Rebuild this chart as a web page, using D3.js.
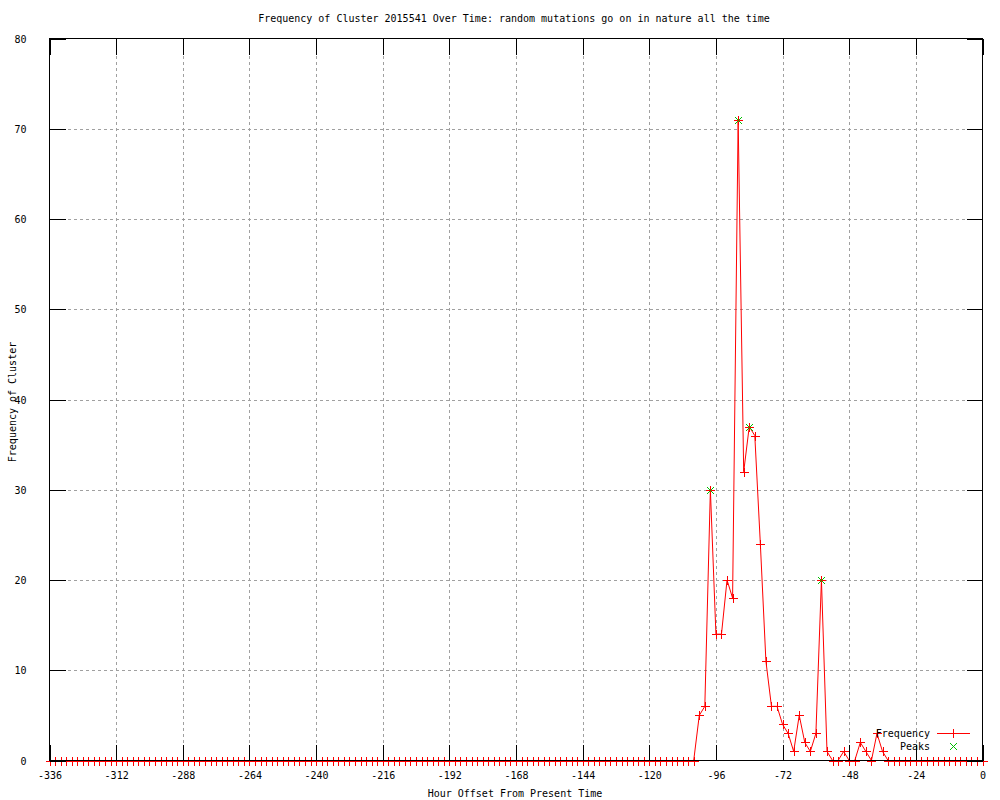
<!DOCTYPE html>
<html>
<head>
<meta charset="utf-8">
<script src="https://cdn.jsdelivr.net/npm/d3@7"></script>
<style>
  body { margin: 0; background: #fff; }
  text { font-family: "DejaVu Sans Mono", monospace; font-size: 10px; fill: #000; }
</style>
</head>
<body>
<script>
// sample hours, every 2 hours from two weeks back to now
const hours = d3.range(-336, 1, 2);

// frequency per sample (169 values)
const freq = [
  // -336 .. -104 : all zero (117 samples)
  0,0,0,0,0,0,0,0,0,0,0,0,0,
  0,0,0,0,0,0,0,0,0,0,0,0,0,
  0,0,0,0,0,0,0,0,0,0,0,0,0,
  0,0,0,0,0,0,0,0,0,0,0,0,0,
  0,0,0,0,0,0,0,0,0,0,0,0,0,
  0,0,0,0,0,0,0,0,0,0,0,0,0,
  0,0,0,0,0,0,0,0,0,0,0,0,0,
  0,0,0,0,0,0,0,0,0,0,0,0,0,
  0,0,0,0,0,0,0,0,0,0,0,0,0,
  // -102 .. -34
  5,6,30,14,14,20,18,71,32,37,36,24,11,6,6,4,3,1,5,2,1,3,20,1,0,0,1,0,0,2,1,0,3,1,0,
  // -32 .. 0
  0,0,0,0,0,0,0,0,0,0,0,0,0,0,0,0,0
];

const peakHours = [-98, -88, -84, -58];
const peakValues = [30, 71, 37, 20];

const xTicks = [-336, -312, -288, -264, -240, -216, -192, -168, -144, -120, -96, -72, -48, -24, 0];
const yTicks = [0, 10, 20, 30, 40, 50, 60, 70, 80];

const title = "Frequency of Cluster 2015541 Over Time: random mutations go on in nature all the time";

const W = 1000, H = 800;
const m = {left: 49.5, right: 982.5, top: 38.5, bottom: 760.5};
const RED = "#ff0000", GREEN = "#00c000";

const svg = d3.select("body").append("svg")
    .attr("width", W)
    .attr("height", H);

const x = d3.scaleLinear().domain([-336, 0]).range([m.left, m.right]);
const y = d3.scaleLinear().domain([0, 80]).range([m.bottom, m.top]);

// grid
const grid = svg.append("g")
    .attr("stroke", "#a0a0a0")
    .attr("stroke-dasharray", "3,3")
    .attr("shape-rendering", "crispEdges");
grid.selectAll("line.gx")
    .data(xTicks.slice(1, -1))
    .enter().append("line")
    .attr("x1", d => Math.round(x(d)) + 0.5).attr("x2", d => Math.round(x(d)) + 0.5)
    .attr("y1", m.bottom).attr("y2", m.top);
grid.selectAll("line.gy")
    .data(yTicks.slice(1, -1))
    .enter().append("line")
    .attr("y1", d => Math.round(y(d)) + 0.5).attr("y2", d => Math.round(y(d)) + 0.5)
    .attr("x1", m.left).attr("x2", m.right);

// data line
const pts = hours.map((h, i) => [h, freq[i]]);
const line = d3.line().x(d => x(d[0])).y(d => y(d[1]));

svg.append("path")
    .datum(pts)
    .attr("d", line)
    .attr("fill", "none")
    .attr("stroke", RED)
    .attr("stroke-width", 1);

const plus = "M-4.5,0H4.5M0,-4.5V4.5";
const cross = "M-3.5,-3.5L3.5,3.5M-3.5,3.5L3.5,-3.5";

svg.append("g").selectAll("path")
    .data(pts)
    .enter().append("path")
    .attr("transform", d => `translate(${Math.round(x(d[0])) + 0.5},${Math.round(y(d[1])) + 0.5})`)
    .attr("d", plus)
    .attr("stroke", RED)
    .attr("fill", "none")
    .attr("shape-rendering", "crispEdges");

svg.append("g").selectAll("path")
    .data(peakHours)
    .enter().append("path")
    .attr("transform", (d, i) => `translate(${Math.round(x(d)) + 0.5},${Math.round(y(peakValues[i])) + 0.5})`)
    .attr("d", cross)
    .attr("stroke", GREEN)
    .attr("fill", "none");

// axes, ticks pointing inward and mirrored
const fmt = d => String(d);
const axB = svg.append("g").attr("transform", `translate(0,${m.bottom})`)
    .call(d3.axisBottom(x).tickValues(xTicks).tickSize(-16).tickPadding(24).tickFormat(fmt));
const axT = svg.append("g").attr("transform", `translate(0,${m.top})`)
    .call(d3.axisTop(x).tickValues(xTicks).tickSize(-16).tickFormat(""));
const axL = svg.append("g").attr("transform", `translate(${m.left},0)`)
    .call(d3.axisLeft(y).tickValues(yTicks).tickSize(-16).tickPadding(23).tickFormat(fmt));
const axR = svg.append("g").attr("transform", `translate(${m.right},0)`)
    .call(d3.axisRight(y).tickValues(yTicks).tickSize(-16).tickFormat(""));

[axB, axT, axL, axR].forEach(a => {
  a.select(".domain").remove();
  a.selectAll("line").attr("stroke", "#000").attr("shape-rendering", "crispEdges");
  a.selectAll("text").attr("font-family", null).attr("font-size", null);
});
axB.selectAll("text").attr("dy", null).attr("y", 18);
axL.selectAll("text").attr("dy", "0.35em");

// frame
svg.append("rect")
    .attr("x", m.left).attr("y", m.top)
    .attr("width", m.right - m.left).attr("height", m.bottom - m.top)
    .attr("fill", "none")
    .attr("stroke", "#000")
    .attr("shape-rendering", "crispEdges");

// texts
svg.append("text").attr("x", 514).attr("y", 22).attr("text-anchor", "middle").text(title);
svg.append("text").attr("x", 515).attr("y", 797).attr("text-anchor", "middle").text("Hour Offset From Present Time");
svg.append("text")
    .attr("transform", "translate(16,402) rotate(-90)")
    .attr("text-anchor", "middle")
    .text("Frequency of Cluster");

// legend
const lg = svg.append("g")
    .attr("fill", "none")
    .attr("stroke-width", 1)
    .attr("shape-rendering", "crispEdges");
lg.append("text").attr("x", 930).attr("y", 737).attr("text-anchor", "end").text("Frequency");
lg.append("path").attr("d", "M937,733.5H970").style("stroke", RED);
lg.append("path").attr("transform", "translate(953.5,733.5)").attr("d", plus).style("stroke", RED);
lg.append("text").attr("x", 930).attr("y", 750).attr("text-anchor", "end").text("Peaks");
lg.append("path").attr("transform", "translate(953.5,746.5)").attr("d", cross)
    .attr("shape-rendering", "auto").style("stroke", GREEN);
</script>
</body>
</html>
